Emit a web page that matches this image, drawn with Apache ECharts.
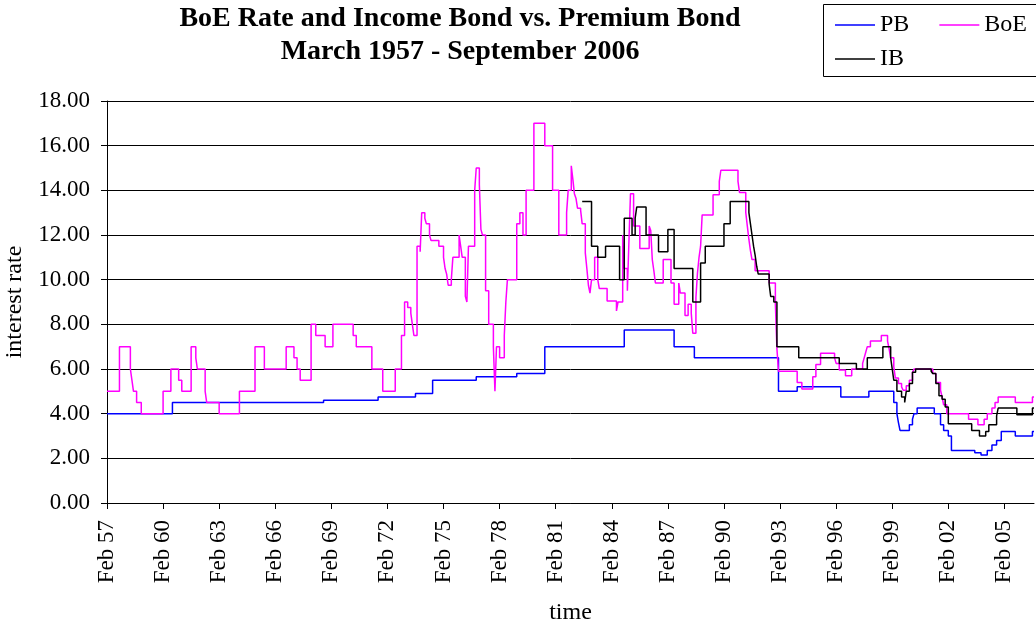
<!DOCTYPE html>
<html>
<head>
<meta charset="utf-8">
<script src="https://cdn.jsdelivr.net/npm/echarts@6/dist/echarts.min.js"></script>
<style>
html,body{margin:0;padding:0;background:#fff;}
#chart{width:1036px;height:626px;}
</style>
</head>
<body>
<div id="chart"></div>
<script>
// X axis tick labels (every 36 months from Feb 1957)
const xTickLabels = ['Feb 57','Feb 60','Feb 63','Feb 66','Feb 69','Feb 72','Feb 75','Feb 78','Feb 81','Feb 84','Feb 87','Feb 90','Feb 93','Feb 96','Feb 99','Feb 02','Feb 05'];

// Premium Bond rate: month of change and new rate
const pbMonths = ['1957-02','1960-08','1968-09','1971-08','1973-08','1974-07','1976-11','1979-01','1980-07','1984-10','1987-06','1988-07','1993-01','1994-01','1996-05','1997-11','1999-03','1999-05','1999-06','1999-07','2000-01','2000-03','2000-04','2000-06','2001-05','2001-09','2001-11','2002-02','2002-04','2003-07','2003-11','2004-03','2004-06','2004-09','2004-12','2005-09','2006-08','2006-09'];
const pbRates = [4.0,4.5,4.6,4.75,4.9,5.5,5.65,5.8,7.0,7.75,7.0,6.5,5.0,5.2,4.75,5.0,4.5,4.0,3.6,3.25,3.5,3.75,4.0,4.25,4.0,3.5,3.25,3.0,2.35,2.25,2.15,2.35,2.6,2.8,3.2,3.0,3.2,3.2];

// Bank of England rate
const boeMonths = ['1957-02','1957-10','1958-05','1958-06','1958-07','1958-09','1958-12','1960-02','1960-07','1960-12','1961-02','1961-08','1961-11','1961-12','1962-05','1962-06','1963-02','1964-03','1965-01','1965-07','1966-09','1967-02','1967-04','1967-06','1968-01','1968-04','1968-10','1969-03','1970-04','1970-06','1971-04','1971-11','1972-07','1972-11','1973-01','1973-03','1973-05','1973-06','1973-07','1973-09','1973-11','1973-12','1974-02','1974-03','1974-05','1974-06','1974-11','1975-02','1975-03','1975-04','1975-05','1975-07','1975-08','1975-12','1976-01','1976-02','1976-04','1976-05','1976-06','1976-10','1976-11','1977-01','1977-02','1977-03','1977-05','1977-07','1977-10','1977-11','1977-12','1978-02','1978-05','1978-06','1978-07','1979-01','1979-03','1979-05','1979-07','1979-12','1980-07','1980-12','1981-04','1981-09','1981-10','1981-12','1982-01','1982-02','1982-03','1982-04','1982-06','1982-07','1982-09','1982-10','1982-11','1982-12','1983-01','1983-03','1983-05','1983-06','1983-11','1984-05','1984-06','1984-09','1984-10','1984-12','1985-01','1985-02','1985-04','1985-08','1986-02','1986-03','1986-04','1986-05','1986-06','1986-11','1987-04','1987-06','1987-09','1987-10','1988-01','1988-03','1988-05','1988-06','1988-08','1988-09','1988-10','1988-11','1988-12','1989-07','1989-11','1989-12','1990-11','1990-12','1991-04','1991-05','1991-06','1991-07','1991-08','1991-10','1992-07','1992-11','1992-12','1993-01','1994-01','1994-04','1994-11','1995-01','1995-04','1996-01','1996-02','1996-04','1996-08','1996-12','1997-07','1997-08','1997-09','1997-10','1997-12','1998-07','1998-11','1998-12','1999-01','1999-03','1999-04','1999-06','1999-08','1999-09','1999-11','2000-01','2000-03','2000-04','2001-04','2001-06','2001-09','2001-10','2001-11','2002-01','2003-03','2003-09','2004-01','2004-03','2004-06','2004-08','2004-10','2005-09','2006-08','2006-09'];
const boeRates = [5.0,7.0,6.0,5.5,5.0,4.5,4.0,5.0,6.0,5.5,5.0,7.0,6.5,6.0,5.0,4.5,4.0,5.0,7.0,6.0,7.0,6.5,6.0,5.5,8.0,7.5,7.0,8.0,7.5,7.0,6.0,5.0,6.0,7.5,9.0,8.75,8.5,8.0,7.5,11.5,11.25,13.0,12.75,12.5,12.0,11.75,11.5,11.0,10.5,10.25,9.75,10.0,11.0,12.0,11.5,11.0,9.25,9.0,11.5,14.0,15.0,14.25,12.25,12.0,9.5,8.0,7.0,5.0,7.0,6.5,7.5,9.0,10.0,12.5,13.0,12.0,14.0,17.0,16.0,14.0,12.0,13.0,14.0,15.1,14.5,13.85,13.65,13.2,13.1,12.5,11.2,10.5,9.75,9.4,10.0,11.0,10.0,9.6,9.05,8.6,9.0,12.0,10.5,9.5,11.7,13.85,12.4,11.4,12.4,12.2,10.9,10.4,9.85,10.9,9.85,8.9,9.85,9.4,8.4,8.9,8.5,7.6,9.2,10.3,11.0,11.5,12.9,13.8,14.4,14.9,14.4,13.9,13.0,12.4,11.8,11.3,10.9,10.4,9.85,8.9,6.9,5.9,5.4,5.1,5.65,6.2,6.7,6.5,6.25,5.95,5.7,6.0,6.25,6.5,6.75,7.0,7.25,7.5,7.25,6.9,6.5,6.1,5.6,5.35,5.2,5.05,5.25,5.5,5.85,6.0,5.8,5.4,5.05,4.75,4.4,4.0,3.75,3.5,3.75,4.0,4.25,4.5,4.75,4.5,4.75,4.75];

// Income Bond rate
const ibMonths = ['1982-07','1983-01','1983-05','1983-10','1984-07','1984-10','1985-03','1985-05','1985-06','1985-12','1986-08','1987-02','1987-06','1988-06','1988-11','1989-02','1990-02','1990-06','1991-06','1991-07','1991-08','1991-09','1991-10','1991-11','1991-12','1992-07','1992-08','1992-10','1992-12','1994-02','1996-04','1997-03','1997-10','1998-08','1999-01','1999-02','1999-03','1999-05','1999-08','1999-10','1999-11','2000-01','2000-03','2000-05','2001-03','2001-04','2001-06','2001-08','2001-10','2001-12','2002-02','2003-05','2003-10','2004-02','2004-04','2004-09','2004-10','2005-10','2006-08','2006-09'];
const ibRates = [13.5,11.5,11.0,11.5,10.0,12.75,12.0,12.75,13.25,12.0,11.25,12.25,10.5,9.0,10.75,11.5,12.5,13.5,13.0,12.5,12.0,11.5,11.1,10.6,10.25,9.8,9.25,9.0,7.0,6.5,6.25,6.0,6.5,7.0,6.5,6.0,5.5,5.0,4.75,4.5,5.0,5.35,5.85,6.0,5.9,5.8,5.35,4.8,4.65,4.3,3.55,3.25,3.0,3.2,3.5,3.9,4.25,3.95,4.25,4.25];

function monthIndex(s) {
  const p = s.split('-');
  return (Number(p[0]) - 1957) * 12 + (Number(p[1]) - 2);
}
function pairs(months, rates) {
  return months.map((m, i) => [monthIndex(m), rates[i]]);
}
const tickValues = xTickLabels.map((_, i) => i * 36);
const FONT = 'Liberation Serif';

const chart = echarts.init(document.getElementById('chart'), null, {renderer: 'canvas'});
chart.setOption({
  animation: false,
  backgroundColor: '#ffffff',
  title: {
    text: 'BoE Rate and Income Bond vs. Premium Bond\nMarch 1957 - September 2006',
    left: 455, top: -3, textAlign: 'center',
    textStyle: {fontFamily: FONT, fontSize: 28, fontWeight: 'bold', lineHeight: 33, color: '#000'}
  },
  legend: [
    {data: ['PB', 'BoE'], left: 835, top: 13, padding: 0, icon: 'rect', itemWidth: 40, itemHeight: 1.5, itemGap: 30,
     textStyle: {fontFamily: FONT, fontSize: 24, color: '#000'}},
    {data: ['IB'], left: 835, top: 47, padding: 0, icon: 'rect', itemWidth: 40, itemHeight: 1.5,
     textStyle: {fontFamily: FONT, fontSize: 24, color: '#000'}}
  ],
  graphic: [{
    type: 'rect', shape: {x: 823.5, y: 4.5, width: 240, height: 72},
    style: {fill: 'none', stroke: '#000', lineWidth: 1}, silent: true
  }],
  grid: {left: 107, right: 2, top: 101, bottom: 123, containLabel: false, outerBoundsMode: 'none'},
  xAxis: {
    type: 'value', min: 0, max: 595,
    name: 'time', nameLocation: 'middle', nameGap: 98,
    nameTextStyle: {fontFamily: FONT, fontSize: 24, color: '#000'},
    axisLine: {show: true, lineStyle: {color: '#000', width: 1}},
    axisTick: {show: true, length: 6, customValues: tickValues, lineStyle: {color: '#000'}},
    axisLabel: {
      customValues: tickValues, rotate: 90, margin: 17,
      fontFamily: FONT, fontSize: 23, color: '#000',
      formatter: v => xTickLabels[Math.round(v / 36)] || ''
    },
    splitLine: {show: false}
  },
  yAxis: {
    type: 'value', min: 0, max: 18, interval: 2,
    name: 'interest rate', nameLocation: 'middle', nameGap: 80, nameRotate: 90,
    nameTextStyle: {fontFamily: FONT, fontSize: 24, color: '#000'},
    axisLine: {show: true, lineStyle: {color: '#000', width: 1}},
    axisTick: {show: true, length: 6, lineStyle: {color: '#000'}},
    axisLabel: {margin: 17, fontFamily: FONT, fontSize: 23, color: '#000', formatter: v => v.toFixed(2)},
    splitLine: {show: true, lineStyle: {color: '#000', width: 1}}
  },
  series: [
    {name: 'PB', type: 'line', step: 'end', symbol: 'none', data: pairs(pbMonths, pbRates),
     lineStyle: {color: '#0000FF', width: 1.5}, itemStyle: {color: '#0000FF'}},
    {name: 'BoE', type: 'line', step: 'end', symbol: 'none', data: pairs(boeMonths, boeRates),
     lineStyle: {color: '#FF00FF', width: 1.5}, itemStyle: {color: '#FF00FF'}},
    {name: 'IB', type: 'line', step: 'end', symbol: 'none', data: pairs(ibMonths, ibRates),
     lineStyle: {color: '#000000', width: 1.5}, itemStyle: {color: '#000000'}}
  ]
});
</script>
</body>
</html>
